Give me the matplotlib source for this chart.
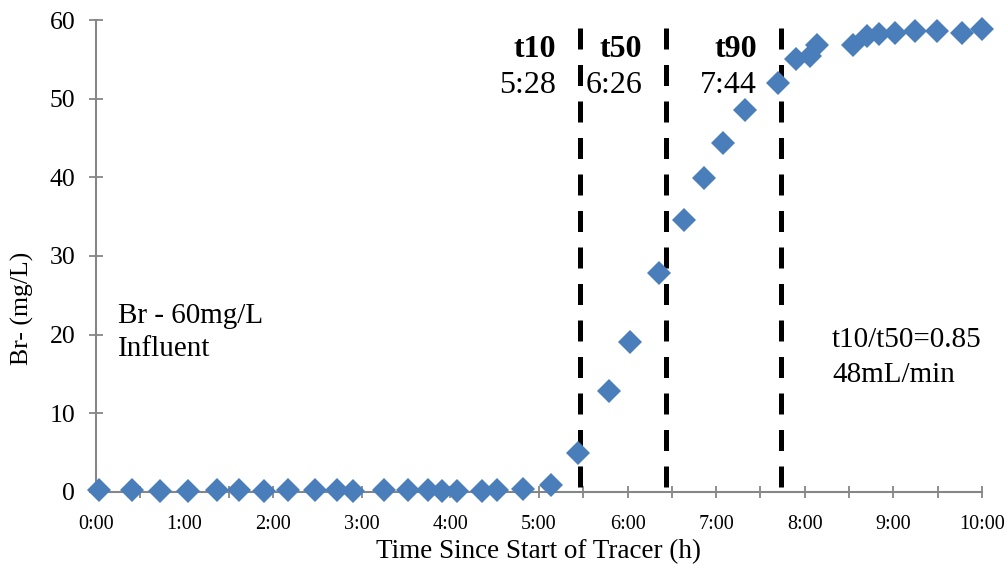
import matplotlib
matplotlib.use("Agg")
import matplotlib.pyplot as plt
import numpy as np

# Tracer data (hours since start, Br- in mg/L)
time_h = [0.03, 0.41, 0.72, 1.04, 1.37, 1.61, 1.90, 2.17, 2.47, 2.72,
          2.90, 3.25, 3.52, 3.75, 3.91, 4.07, 4.36, 4.53, 4.82, 5.14,
          5.44, 5.79, 6.03, 6.35, 6.64, 6.86, 7.08, 7.33, 7.70, 7.90,
          8.06, 8.14, 8.54, 8.70, 8.84, 9.02, 9.24, 9.49, 9.77, 10.0]
br_mgL = [0.3, 0.2, 0.1, 0.1, 0.2, 0.2, 0.1, 0.2, 0.2, 0.2,
          0.1, 0.2, 0.2, 0.2, 0.1, 0.1, 0.1, 0.2, 0.4, 0.9,
          5.0, 12.8, 19.1, 27.9, 34.6, 39.9, 44.4, 48.5, 52.0, 55.0,
          55.4, 56.8, 56.8, 58.0, 58.2, 58.4, 58.6, 58.6, 58.3, 58.8]

# t10 / t50 / t90 markers
t_names = ["t10", "t50", "t90"]
t_labels = ["5:28", "6:26", "7:44"]
t_values = [5 + 28 / 60, 6 + 26 / 60, 7 + 44 / 60]

x_ticks = list(range(0, 11))
x_ticklabels = [f"{h}:00" for h in x_ticks]
y_ticks = list(range(0, 61, 10))

plt.rcParams['font.family'] = ['Liberation Serif', 'DejaVu Serif']

fig = plt.figure(figsize=(10.07, 5.64), dpi=100)
ax = fig.add_axes([0.0953, 0.1277, 0.8798, 0.8368])

ax.plot(time_h, br_mgL, linestyle='none', marker='D', markersize=12,
        color='#4A7EBB', markeredgewidth=0, zorder=3, clip_on=False)

for name, lab, t in zip(t_names, t_labels, t_values):
    ax.plot([t, t], [59, 0], color='black', linewidth=3.6,
            linestyle=(0, (4.2, 3.1)), zorder=2, dash_capstyle='butt')
    ax.text(t - 0.27, 55.3, name, ha='right', va='baseline',
            fontsize=23, fontweight='bold')
    ax.text(t - 0.27, 50.7, lab, ha='right', va='baseline', fontsize=23)

ax.text(0.25, 21.5, "Br - 60mg/L", ha='left', va='baseline', fontsize=21)
ax.text(0.25, 17.3, "Influent", ha='left', va='baseline', fontsize=21)
ax.text(8.31, 18.4, "t10/t50=0.85", ha='left', va='baseline', fontsize=21)
ax.text(8.31, 14.0, "48mL/min", ha='left', va='baseline', fontsize=21)

ax.set_xlim(0, 10)
ax.set_ylim(0, 60)
ax.set_xticks(x_ticks)
ax.set_xticklabels(x_ticklabels, fontsize=14.5)
ax.set_xticks(np.arange(0.5, 10, 1.0), minor=True)
ax.set_yticks(y_ticks)
ax.tick_params(axis='y', labelsize=18.5, direction='inout', length=10,
               color='#868686', width=1.3, pad=10)
ax.tick_params(axis='x', which='both', direction='inout', length=9,
               color='#868686', width=1.3, pad=12)

for side in ['top', 'right']:
    ax.spines[side].set_visible(False)
for side in ['left', 'bottom']:
    ax.spines[side].set_color('#868686')
    ax.spines[side].set_linewidth(1.5)

ax.set_xlabel("Time Since Start of Tracer (h)", fontsize=19.5, labelpad=4)
ax.set_ylabel("Br- (mg/L)", fontsize=18.5)
ax.yaxis.set_label_coords(-0.070, 0.39)

fig.savefig("out.png", dpi=100)
